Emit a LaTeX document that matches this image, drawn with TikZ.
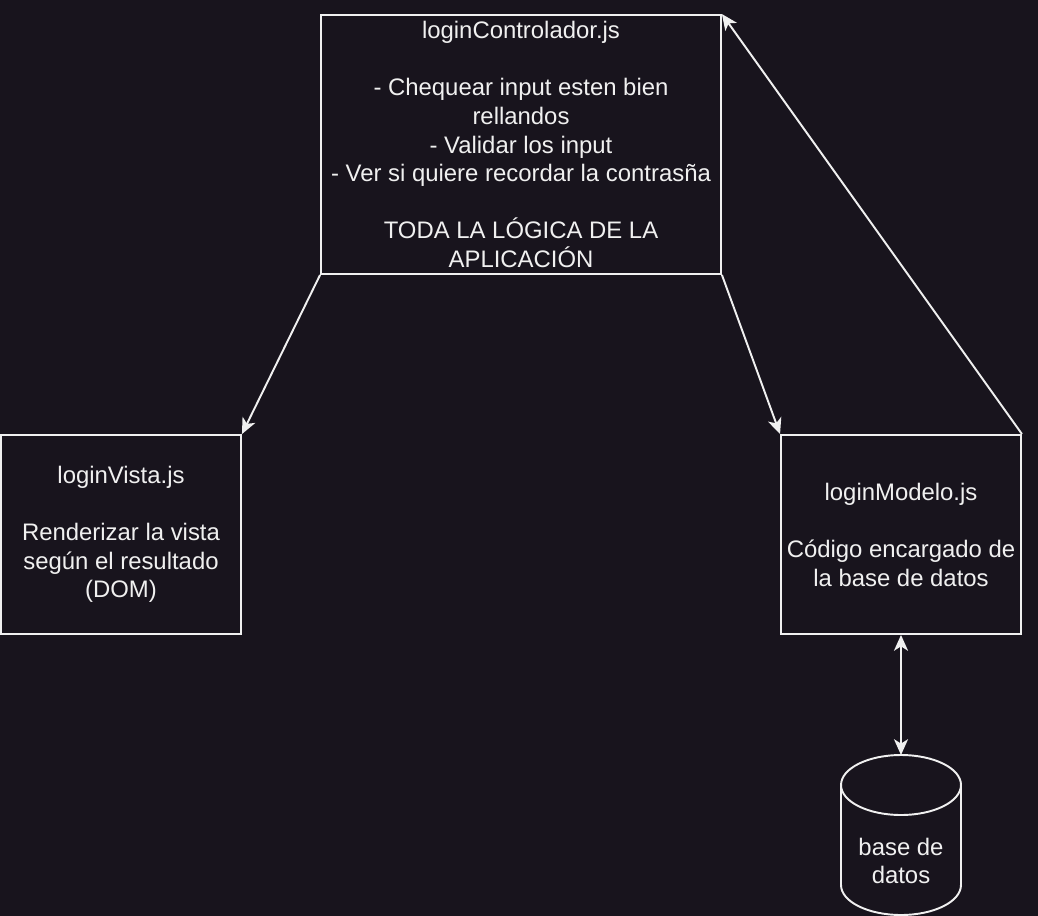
\documentclass[tikz,border=0pt]{standalone}
\usepackage{fontspec}
\setmainfont{Liberation Sans}
\usetikzlibrary{arrows.meta}
\definecolor{bgdark}{RGB}{24,20,29}
\definecolor{linewhite}{RGB}{240,240,240}

\begin{document}
\begin{tikzpicture}[x=0.02cm,y=0.02cm,
  font=\fontsize{13.6}{16.3}\selectfont,
  box/.style={draw=linewhite,line width=1.1pt,text=linewhite,align=center,inner sep=0pt},
  arr/.style={draw=linewhite,line width=1.1pt,-{Stealth[length=9pt,width=8pt,inset=2.5pt]}}]

% ===== BACKGROUND =====
\fill[bgdark] (0,0) rectangle (1038,-916);
\useasboundingbox (0,0) rectangle (1038,-916);

% ===== CONTROLLER (top) =====
\node[box,minimum width=8cm,minimum height=5.18cm] (ctrl) at (521,-144.5)
  {loginControlador.js\\[\baselineskip]- Chequear input esten bien\\rellandos\\- Validar los input\\- Ver si quiere recordar la contrasña\\[\baselineskip]TODA LA LÓGICA DE LA\\APLICACIÓN};

% ===== VIEW (left) =====
\node[box,minimum width=4.8cm,minimum height=3.98cm] (vista) at (121,-534.5)
  {loginVista.js\\[\baselineskip]Renderizar la vista\\según el resultado\\(DOM)};

% ===== MODEL (right) =====
\node[box,minimum width=4.8cm,minimum height=3.98cm] (modelo) at (901,-534.5)
  {loginModelo.js\\[\baselineskip]Código encargado de\\la base de datos};

% ===== DATABASE (cylinder) =====
\draw[linewhite,line width=1.1pt] (841,-785) -- (841,-885)
  arc[start angle=180,end angle=360,x radius=1.2cm,y radius=0.6cm] -- (961,-785)
  arc[start angle=0,end angle=180,x radius=1.2cm,y radius=0.6cm] -- cycle;
\draw[linewhite,line width=1.1pt] (841,-785)
  arc[start angle=180,end angle=360,x radius=1.2cm,y radius=0.6cm];
\coordinate (dbtop) at (901,-755);
\node[text=linewhite,align=center] (db) at (901,-861) {base de\\datos};

% connectors
\draw[arr] (ctrl.south west) -- (vista.north east);
\draw[arr] (ctrl.south east) -- (modelo.north west);
\draw[arr] (modelo.north east) -- (ctrl.north east);
\draw[arr,{Stealth[length=9pt,width=8pt,inset=2.5pt]}-{Stealth[length=9pt,width=8pt,inset=2.5pt]}] (modelo.south) -- (dbtop);

\end{tikzpicture}
\end{document}
